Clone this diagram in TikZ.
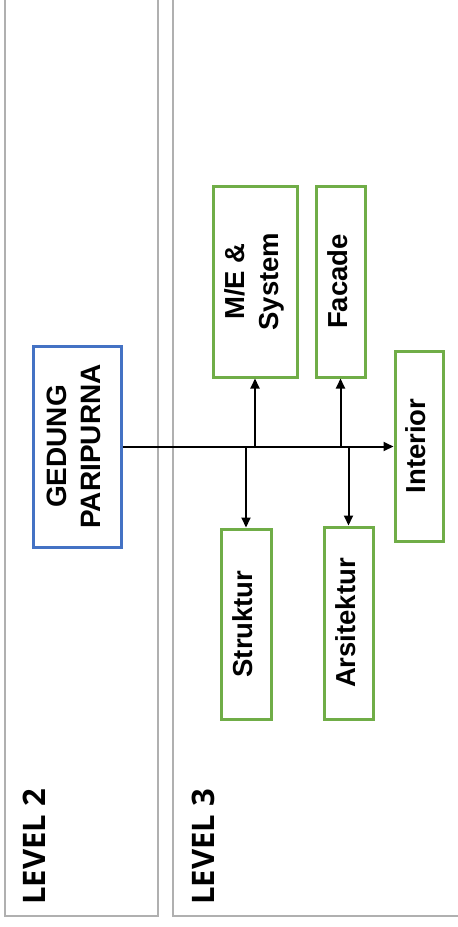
\documentclass[tikz,border=0pt]{standalone}
\usepackage{fontspec}
\setmainfont{Liberation Sans}
\newfontfamily\lanefont{Open Sans}
\usetikzlibrary{arrows.meta}
\definecolor{lanegray}{HTML}{B0B0B0}
\definecolor{topblue}{HTML}{4472C4}
\definecolor{subgreen}{HTML}{70AD47}
\tikzset{
  lane/.style={draw=lanegray, line width=1.6pt},
  topbox/.style={draw=topblue, line width=3pt, fill=white, inner sep=0pt, font=\fontsize{28}{34}\selectfont\bfseries},
  subbox/.style={draw=subgreen, line width=3pt, fill=white, inner sep=0pt, font=\fontsize{27.5}{34}\selectfont\bfseries},
  lanelabel/.style={rotate=90, inner sep=0pt, font=\lanefont\fontsize{31}{36}\selectfont\bfseries},
  link/.style={draw=black, line width=2pt},
  tip/.style={-{Triangle[length=10pt,width=9pt]}}
}
\newcommand{\vtext}[1]{\rotatebox{90}{\begin{tabular}{@{}c@{}}#1\end{tabular}}}
\begin{document}
\begin{tikzpicture}[x=1pt,y=-1pt]
\useasboundingbox (0,0) rectangle (458,927);
\begin{scope}
\clip (0,0) rectangle (458,927);
% swimlane frames
\draw[lane] (5,-10) -- (5,916) -- (158,916) -- (158,-10);
\draw[lane] (173,-10) -- (173,916) -- (470,916);
\end{scope}

% lane titles
\node[lanelabel] (lv2) at (34,847) {LEVEL 2};
\node[lanelabel] (lv3) at (203,847) {LEVEL 3};

% level 2
\node[topbox, minimum width=88pt, minimum height=201pt] (ged) at (77,446.5)
  {\vtext{GEDUNG\\PARIPURNA}};

% level 3
\node[subbox, minimum width=84pt, minimum height=191pt] (me) at (255,281.5)
  {\vtext{M/E \&\\System}};
\node[subbox, minimum width=49pt, minimum height=191pt] (fac) at (340.5,281.5)
  {\vtext{Facade}};
\node[subbox, minimum width=48pt, minimum height=190pt] (int) at (419,446)
  {\vtext{Interior}};
\node[subbox, minimum width=50pt, minimum height=190pt] (str) at (246,624)
  {\vtext{Struktur}};
\node[subbox, minimum width=49pt, minimum height=192pt] (ars) at (348.5,623)
  {\vtext{Arsitektur}};

% connectors
\draw[link, tip] (ged.east) -- (ged.east -| int.west);
\draw[link, tip] (me.south |- ged.east) -- (me.south);
\draw[link, tip] (fac.south |- ged.east) -- (fac.south);
\draw[link, tip] (str.north |- ged.east) -- (str.north);
\draw[link, tip] (ars.north |- ged.east) -- (ars.north);
\end{tikzpicture}
\end{document}
